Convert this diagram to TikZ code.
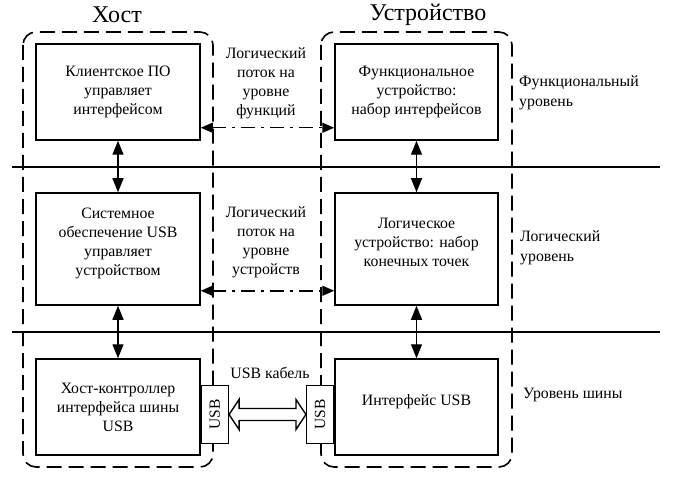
\documentclass[tikz,border=0pt]{standalone}
\usepackage{fontspec}
\setmainfont{Liberation Serif}
\usetikzlibrary{arrows.meta,calc}
\tikzset{
  box/.style={draw,line width=1.5pt,fill=white,align=center,inner sep=0pt,font=\fontsize{15.8}{19}\selectfont},
  usbbox/.style={draw,line width=1.3pt,fill=white,inner sep=0pt,minimum width=27pt,minimum height=58pt,font=\fontsize{15.5}{15}\selectfont},
  frame/.style={line width=1.6pt,dash pattern=on 15pt off 7pt,rounded corners=13pt},
  lvl/.style={line width=1.4pt},
  varr/.style={line width=1.4pt,{Triangle[length=14pt,width=11pt]}-{Triangle[length=14pt,width=11pt]}},
  flow/.style={line width=1.5pt,dash pattern=on 14pt off 6pt on 3pt off 6pt,{Triangle[length=12pt,width=10pt]}-{Triangle[length=12pt,width=10pt]}},
  lbl/.style={align=center,font=\fontsize{15.8}{19}\selectfont,inner sep=0pt},
  rlbl/.style={align=left,anchor=west,font=\fontsize{15.8}{20}\selectfont,inner sep=0pt},
  ttl/.style={font=\fontsize{24}{26}\selectfont,inner sep=0pt}
}
\begin{document}
\begin{tikzpicture}[x=1pt,y=-1pt]
\useasboundingbox (0,0) rectangle (675,484);
% frames
\draw[frame] (23,32) rectangle (213,467);
\draw[frame] (321,32) rectangle (512,467);
% level lines
\coordinate (l1a) at (12,167); \coordinate (l1b) at (660,167);
\coordinate (l2a) at (12,332); \coordinate (l2b) at (660,332);
\draw[lvl] (l1a) -- (l1b);
\draw[lvl] (l2a) -- (l2b);
% titles
\node[ttl] (th) at (117,15) {Хост};
\node[ttl] (td) at (428,15) {Устройство};
% boxes
\node[box,minimum width=164pt,minimum height=96pt] (h1) at (118,92) {Клиентское ПО\\управляет\\интерфейсом};
\node[box,minimum width=163pt,minimum height=96pt] (d1) at (416.5,92) {Функциональное\\устройство:\\набор интерфейсов};
\node[box,minimum width=164pt,minimum height=112pt] (h2) at (118,249) {Системное\\обеспечение USB\\управляет\\устройством\\[-5pt]};
\node[box,minimum width=163pt,minimum height=112pt] (d2) at (416.5,249) {Логическое\\устройство: набор\\конечных точек\\[-5pt]};
\node[box,minimum width=164pt,minimum height=96pt] (h3) at (118,407) {Хост-контроллер\\интерфейса шины\\USB};
\node[box,minimum width=163pt,minimum height=96pt] (d3) at (416.5,407) {Интерфейс USB\\[-5pt]};
% USB boxes
\node[usbbox,anchor=west] (uh) at (h3.east |- 0,414.5) {\rotatebox{90}{USB}};
\node[usbbox,anchor=east] (ud) at (d3.west |- 0,414.5) {\rotatebox{90}{USB}};
% vertical arrows
\draw[varr] (h1.south) -- (h2.north);
\draw[varr] (h2.south) -- (h3.north);
\draw[varr] (d1.south) -- (d2.north);
\draw[varr] (d2.south) -- (d3.north);
% logical flows
\draw[flow] ($(h1.south east)+(0,-13)$) -- ($(d1.south west)+(0,-13)$);
\draw[flow] ($(h2.south east)+(0,-15)$) -- ($(d2.south west)+(0,-15)$);
% cable
\draw[line width=1.4pt,fill=white] (uh.east) -- ($(uh.east)+(10,-15)$) -- ($(uh.east)+(10,-6)$) -- ($(ud.west)+(-10,-6)$) -- ($(ud.west)+(-10,-15)$) -- (ud.west) -- ($(ud.west)+(-10,15)$) -- ($(ud.west)+(-10,6)$) -- ($(uh.east)+(10,6)$) -- ($(uh.east)+(10,15)$) -- cycle;
% middle labels
\node[lbl] (m1) at (266,83) {Логический\\поток на\\уровне\\функций};
\node[lbl] (m2) at (266,242) {Логический\\поток на\\уровне\\устройств};
\node[lbl] (m3) at (270,373) {USB кабель};
% right labels
\node[rlbl] (r1) at (519,93) {Функциональный\\уровень};
\node[rlbl] (r2) at (520,248) {Логический\\уровень};
\node[rlbl] (r3) at (523,395) {Уровень шины};
\end{tikzpicture}
\end{document}
